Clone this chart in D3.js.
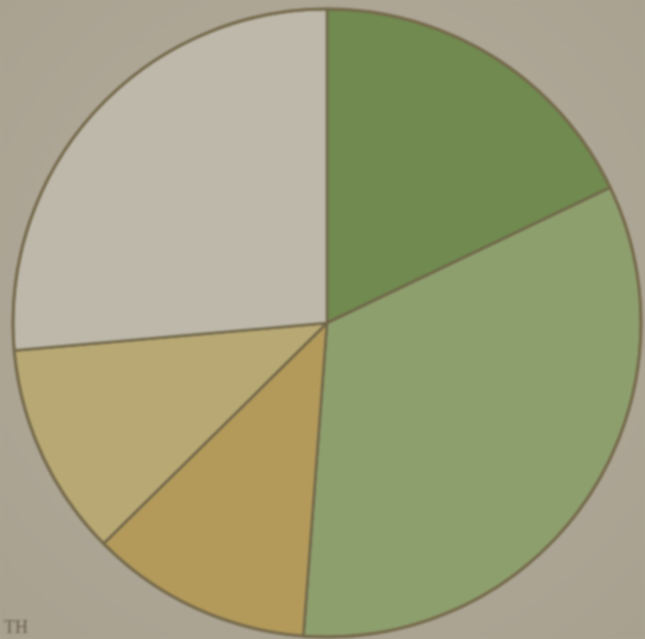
<!DOCTYPE html>
<html>
<head>
<meta charset="utf-8">
<script src="https://cdn.jsdelivr.net/npm/d3@7"></script>
<style>
  html, body { margin: 0; padding: 0; background: #aba493; overflow: hidden; }
  svg { display: block; }
</style>
</head>
<body>
<svg id="chart" width="645" height="639"></svg>
<script>
// Slice shares, clockwise from 12 o'clock
const categories = ["A", "B", "C", "D", "E"];
const shares = [17.9, 33.3, 11.4, 11.0, 26.4];
const colors = ["#708a50", "#8e9f6e", "#b39a5b", "#b8a974", "#bdb8aa"];
const footText = ["TH"];

const width = 645, height = 639;
const cx = 327, cy = 323, radius = 314;

const svg = d3.select("#chart");

// soft background wash
const defs = svg.append("defs");
const bg = defs.append("radialGradient").attr("id", "bg").attr("cx", "50%").attr("cy", "45%").attr("r", "75%");
bg.append("stop").attr("offset", "0%").attr("stop-color", "#b5ae9e");
bg.append("stop").attr("offset", "100%").attr("stop-color", "#a8a190");
svg.append("rect").attr("width", width).attr("height", height).attr("fill", "url(#bg)");

const pie = d3.pie().sort(null).value(d => d.v).startAngle(0).endAngle(2 * Math.PI);
const arc = d3.arc().innerRadius(0).outerRadius(radius);
const data = categories.map((c, i) => ({ c, v: shares[i], color: colors[i] }));

const g = svg.append("g").attr("transform", `translate(${cx},${cy})`);
g.selectAll("path.slice")
  .data(pie(data))
  .join("path")
  .attr("class", "slice")
  .attr("d", arc)
  .attr("fill", d => d.data.color)
  .attr("stroke", "#6f6548")
  .attr("stroke-width", 2.5)
  .attr("stroke-linejoin", "round");

// outer rim
g.append("circle").attr("r", radius).attr("fill", "none")
  .attr("stroke", "#75694b").attr("stroke-width", 3);

svg.append("text")
  .attr("x", 4).attr("y", 633)
  .attr("font-family", "Liberation Serif, DejaVu Serif, serif")
  .attr("font-size", 18)
  .attr("fill", "#6a5f4e")
  .text(footText[0]);

svg.style("filter", "blur(0.8px)");
</script>
</body>
</html>
